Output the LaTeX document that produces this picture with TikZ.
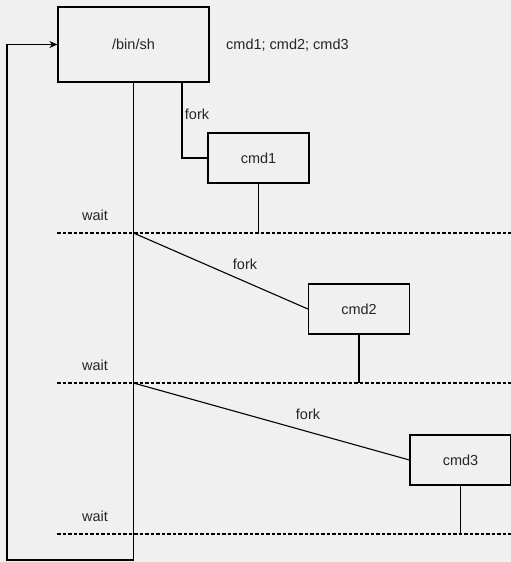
\documentclass[tikz,border=0pt]{standalone}
\usepackage{fontspec}
\setmainfont{Liberation Sans}
\usetikzlibrary{arrows.meta,positioning,calc}

\begin{document}
\begin{tikzpicture}[x=1pt,y=-1pt,
  every node/.style={font=\fontsize{14.5}{17}\selectfont,text=black!85},
  box/.style={draw=black,line width=1.2pt,minimum width=101pt,minimum height=50pt,inner sep=0pt},
  lbl/.style={inner sep=0pt},
  link/.style={line width=1.1pt},
  waitline/.style={line width=1.1pt,dash pattern=on 3.5pt off 2pt}]
\fill[black!6] (0,0) rectangle (511,562);
\useasboundingbox (0,0) rectangle (511,562);

% shell and commands
\node[box,minimum width=151pt,minimum height=75pt] (sh) at (133.5,44.5) {/bin/sh};
\node[lbl,anchor=west] (cmds) at (226,45) {cmd1; cmd2; cmd3};
\node[box] (cmd1) at (258.5,158) {cmd1};
\node[box] (cmd2) at (359,309) {cmd2};
\node[box] (cmd3) at (460.5,460) {cmd3};

% wait lines
\foreach \i/\y in {1/233,2/383,3/534}{
  \coordinate (w\i a) at (57,\y);
  \coordinate (w\i b) at (511,\y);
  \draw[waitline] (w\i a) -- (w\i b);
  \node[lbl] (wait\i) at (95,\y-18) {wait};
}

% main loop of the shell
\coordinate (loopbr) at (sh.south |- 0,560);
\coordinate (loopbl) at (7,560);
\draw[link,-{Stealth[length=8pt,width=7pt]}] (sh.south) -- (loopbr) -- (loopbl) |- (sh.west);

% forks
\coordinate (f1) at ($(sh.south)+(48.5,0)$);
\draw[link] (f1) |- (cmd1.west);
\node[lbl] (fork1) at (197,114) {fork};
\draw[link] (sh.south |- w1a) -- (cmd2.west);
\node[lbl] (fork2) at (245,264) {fork};
\draw[link] (sh.south |- w2a) -- (cmd3.west);
\node[lbl] (fork3) at (308,414) {fork};

% children end
\foreach \c/\w in {cmd1/w1a,cmd2/w2a,cmd3/w3a}
  \draw[link] (\c.south) -- (\c.south |- \w);
\end{tikzpicture}
\end{document}
